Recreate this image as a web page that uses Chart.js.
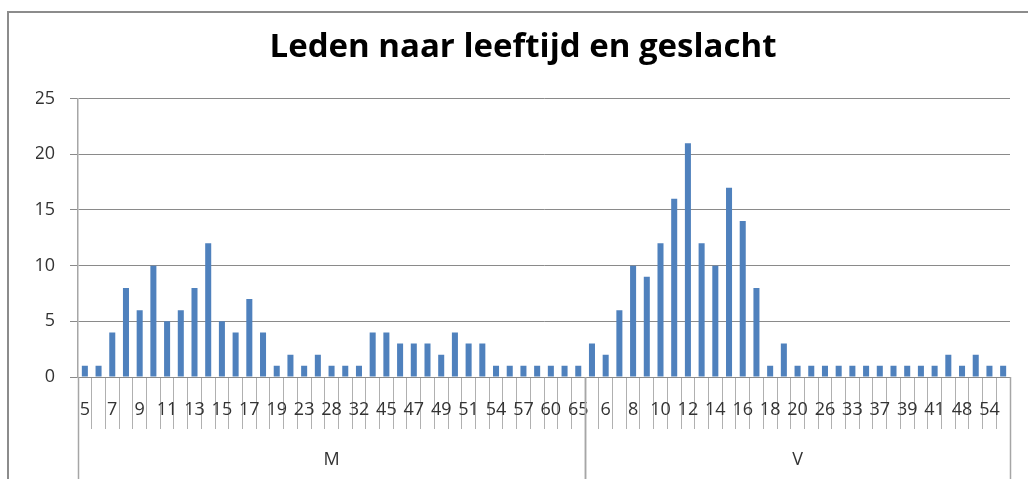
<!DOCTYPE html>
<html>
<head>
<meta charset="utf-8">
<script src="https://cdn.jsdelivr.net/npm/chart.js@4"></script>
<style>
  body { margin: 0; background: #fff; }
  #wrap { position: relative; width: 1028px; height: 479px; overflow: hidden; }
  #frame { position: absolute; left: 7px; top: 11px; width: 1040px; height: 480px;
           border-top: 2px solid #8c8c8c; border-left: 2px solid #8c8c8c; }
  canvas { position: absolute; left: 0; top: 0; }
</style>
</head>
<body>
<div id="wrap">
  <div id="frame"></div>
  <canvas id="chart" width="1028" height="479"></canvas>
</div>
<script>
const groups = ['M', 'V'];
const mAges = ['5','6','7','8','9','10','11','12','13','14','15','16','17','18','19','21','23','25','28','30','32','40','45','46','47','48','49','50','51','52','54','55','57','58','60','63','65'];
const mCounts = [1,1,4,8,6,10,5,6,8,12,5,4,7,4,1,2,1,2,1,1,1,4,4,3,3,3,2,4,3,3,1,1,1,1,1,1,1];
const vAges = ['5','6','7','8','9','10','11','12','13','14','15','16','17','18','19','20','22','26','30','33','35','37','38','39','40','41','44','48','50','54','58'];
const vCounts = [3,2,6,10,9,12,16,21,12,10,17,14,8,1,3,1,1,1,1,1,1,1,1,1,1,1,2,1,2,1,1];
const yTicks = [0, 5, 10, 15, 20, 25];

const labels = mAges.concat(vAges);
const counts = mCounts.concat(vCounts);
const groupSizes = [mAges.length, vAges.length];

const axisFont = { family: 'Open Sans', size: 18 };

// group lines and group names under the category axis
const groupAxis = {
    id: 'groupAxis',
    afterDraw(chart) {
        const ctx = chart.ctx;
        const xs = chart.scales.x;
        const half = (xs.getPixelForValue(1) - xs.getPixelForValue(0)) / 2;
        const bottom = chart.chartArea.bottom;
        ctx.save();
        ctx.strokeStyle = '#a6a6a6';
        ctx.lineWidth = 1.5;
        ctx.fillStyle = '#333';
        ctx.font = '18px "Open Sans"';
        ctx.textAlign = 'center';
        ctx.textBaseline = 'middle';
        let start = 0;
        groupSizes.forEach((n, g) => {
            const x0 = xs.getPixelForValue(start) - half;
            const x1 = xs.getPixelForValue(start + n - 1) + half;
            [x0, x1].forEach(x => {
                ctx.beginPath();
                ctx.moveTo(Math.round(x) + 0.5, bottom);
                ctx.lineTo(Math.round(x) + 0.5, chart.height);
                ctx.stroke();
            });
            ctx.fillText(groups[g], (x0 + x1) / 2, 460);
            start += n;
        });
        ctx.restore();
    }
};

new Chart(document.getElementById('chart'), {
    type: 'bar',
    data: {
        labels: labels,
        datasets: [{
            data: counts,
            backgroundColor: '#4f81bd',
            borderWidth: 0,
            categoryPercentage: 1,
            barPercentage: 0.44
        }]
    },
    options: {
        responsive: false,
        animation: false,
        layout: { padding: { left: 36, right: 18, top: 0, bottom: 0 } },
        plugins: {
            legend: { display: false },
            tooltip: { enabled: false },
            title: {
                display: true,
                text: 'Leden naar leeftijd en geslacht',
                color: '#000',
                font: { family: 'Open Sans', size: 33, weight: 'bold' },
                padding: { top: 28, bottom: 31 }
            }
        },
        scales: {
            x: {
                offset: true,
                grid: {
                    offset: true,
                    drawOnChartArea: false,
                    drawTicks: true,
                    tickLength: 52,
                    color: '#b0b0b0',
                    lineWidth: 1
                },
                border: { color: '#8a8a8a', width: 1 },
                ticks: {
                    autoSkip: false,
                    maxRotation: 0,
                    minRotation: 0,
                    padding: -30,
                    color: '#333',
                    font: axisFont,
                    callback: (v, i) => (i % 2 === 0 ? labels[i] : '')
                },
                afterFit: s => { s.height = 102; }
            },
            y: {
                min: 0,
                max: 25,
                afterBuildTicks: s => { s.ticks = yTicks.map(v => ({ value: v })); },
                grid: { color: '#8a8a8a', lineWidth: 1, tickLength: 8 },
                border: { color: '#a6a6a6', width: 1.5 },
                ticks: { padding: 15, color: '#333', font: axisFont },
                afterFit: s => { s.width = 42; }
            }
        }
    },
    plugins: [groupAxis]
});
</script>
</body>
</html>
